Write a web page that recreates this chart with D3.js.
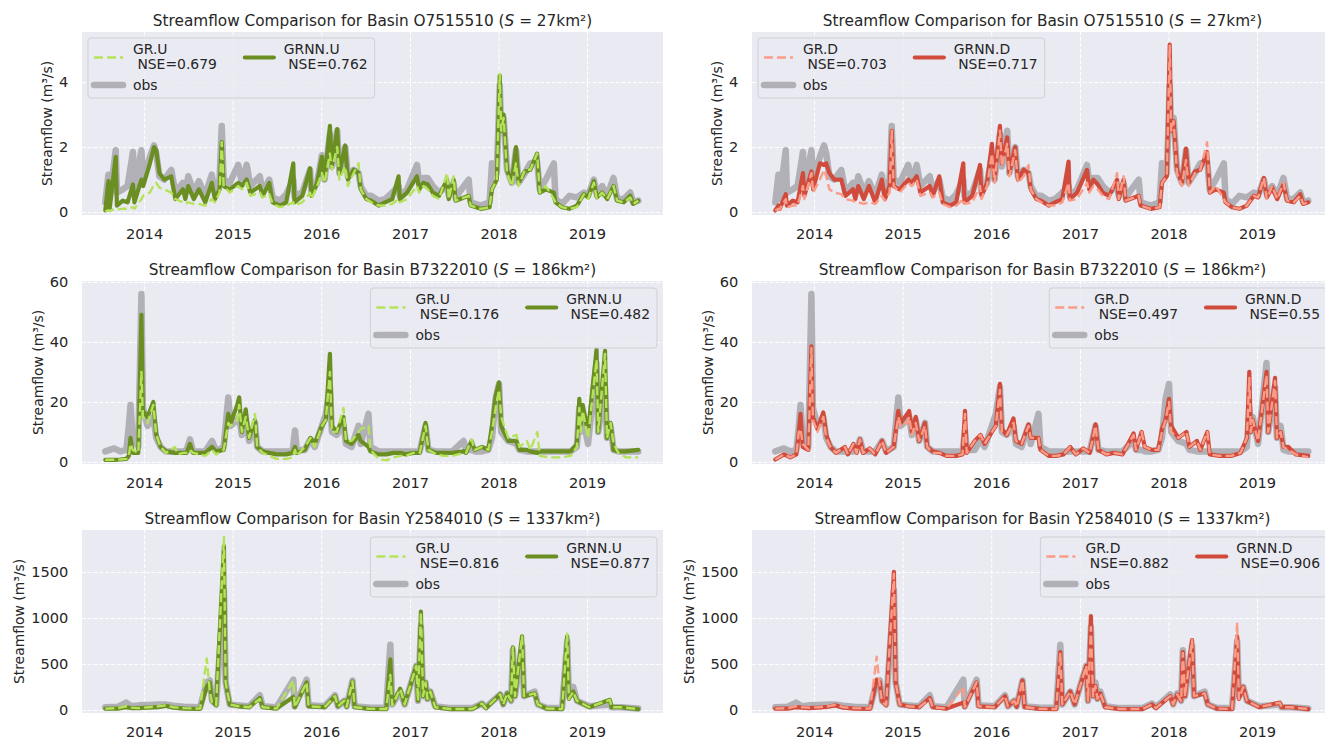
<!DOCTYPE html>
<html>
<head>
<meta charset="utf-8">
<script src="https://cdn.jsdelivr.net/npm/d3@7"></script>
<style>
  body { margin: 0; background: #fff; }
  svg text { font-family: "DejaVu Sans", sans-serif; fill: #262626; }
</style>
</head>
<body>
<div id="chart"></div>
<script>
// ---------- data ----------
const basinIds = ["O7515510", "B7322010", "Y2584010"];
const basinAreas = [27, 186, 1337];
const yTicks = [[0, 2, 4], [0, 20, 40, 60], [0, 500, 1000, 1500]];
const yLimits = [[-0.09, 5.54], [-0.7, 60.3], [-33, 1956]];
const xTickLabels = ["2014", "2015", "2016", "2017", "2018", "2019"];

const nseGRU = [0.679, 0.176, 0.816];
const nseGRNNU = [0.762, 0.482, 0.877];
const nseGRD = [0.703, 0.497, 0.882];
const nseGRNND = [0.717, 0.55, 0.906];

// basin O7515510
const datesO75 = ["2013-07-25","2013-08-07","2013-08-12","2013-09-06","2013-09-11","2013-10-05","2013-10-25","2013-11-16","2013-11-22","2013-12-21",
  "2013-12-28","2014-01-25","2014-02-11","2014-02-20","2014-03-05","2014-03-25","2014-04-23","2014-05-10","2014-06-10","2014-06-20",
  "2014-07-02","2014-07-25","2014-08-15","2014-09-10","2014-10-07","2014-10-20","2014-11-08","2014-11-17","2014-11-25","2014-12-20",
  "2015-01-24","2015-02-08","2015-02-28","2015-03-15","2015-04-23","2015-05-05","2015-06-01","2015-06-15","2015-07-15","2015-08-10",
  "2015-09-08","2015-09-13","2015-10-15","2015-11-16","2015-11-22","2015-12-15","2016-01-04","2016-01-15","2016-02-06","2016-02-14",
  "2016-03-07","2016-03-16","2016-04-09","2016-04-20","2016-05-14","2016-06-03","2016-06-12","2016-07-05","2016-07-25","2016-08-25",
  "2016-09-20","2016-10-20","2016-11-15","2016-11-20","2016-12-20","2017-01-30","2017-02-08","2017-02-25","2017-03-15","2017-04-05",
  "2017-05-01","2017-06-03","2017-06-10","2017-06-30","2017-07-08","2017-08-31","2017-09-08","2017-10-20","2017-11-25","2017-12-05",
  "2017-12-25","2018-01-06","2018-01-12","2018-01-22","2018-02-05","2018-02-25","2018-03-14","2018-03-25","2018-04-20","2018-05-12",
  "2018-06-09","2018-06-20","2018-07-15","2018-08-17","2018-08-24","2018-09-20","2018-10-20","2018-11-20","2018-12-19","2019-01-05",
  "2019-01-29","2019-02-10","2019-03-04","2019-03-25","2019-04-20","2019-05-05","2019-06-01","2019-06-28","2019-07-10","2019-07-31"];
const obsO75 = [0.3, 1.15, 0.4, 1.9, 0.6, 0.7, 0.8, 1.85, 0.7, 1.9,
  1.0, 1.7, 2.05, 1.8, 1.1, 1.0, 1.3, 0.6, 0.9, 0.6,
  1.1, 0.6, 0.95, 0.5, 1.15, 0.6, 1.0, 2.65, 1.0, 0.9,
  1.45, 0.9, 1.45, 0.8, 1.1, 0.6, 1.0, 0.45, 0.35, 0.55,
  1.0, 0.5, 0.6, 1.3, 0.6, 0.9, 1.75, 1.0, 2.4, 1.4,
  2.5, 1.2, 2.0, 1.1, 1.3, 1.2, 0.8, 0.5, 0.5, 0.35,
  0.4, 0.6, 0.8, 0.5, 0.7, 1.45, 0.9, 1.05, 1.05, 0.8,
  0.6, 0.8, 0.5, 0.9, 0.45, 1.0, 0.3, 0.2, 0.3, 1.5,
  1.2, 3.9, 2.5, 2.9, 1.3, 0.9, 1.9, 0.9, 1.2, 1.5,
  1.55, 0.7, 1.0, 1.5, 0.4, 0.25, 0.5, 0.45, 0.6, 0.5,
  1.0, 0.55, 0.8, 0.5, 1.05, 0.4, 0.4, 0.6, 0.3, 0.35];
const gruO75 = [0.02, 0.05, 0.04, 0.1, 0.08, 0.1, 0.1, 0.15, 0.1, 0.4,
  0.5, 0.6, 0.85, 0.9, 0.75, 0.7, 0.6, 0.4, 0.3, 0.25,
  0.3, 0.25, 0.25, 0.2, 0.4, 0.3, 0.6, 2.15, 0.8, 0.6,
  0.8, 0.7, 0.9, 0.5, 0.6, 0.45, 0.55, 0.25, 0.15, 0.2,
  0.3, 0.2, 0.3, 0.6, 0.4, 0.8, 1.2, 0.9, 1.8, 1.3,
  2.0, 1.0, 1.4, 0.8, 1.2, 1.5, 0.7, 0.4, 0.3, 0.2,
  0.2, 0.25, 0.4, 0.3, 0.4, 0.8, 0.6, 0.8, 0.7, 0.5,
  0.4, 1.2, 0.4, 1.1, 0.35, 0.5, 0.2, 0.1, 0.15, 0.7,
  1.0, 4.25, 2.5, 2.9, 1.2, 0.8, 1.5, 0.8, 1.3, 1.3,
  1.8, 0.6, 0.8, 0.4, 0.3, 0.15, 0.1, 0.15, 0.55, 0.4,
  0.9, 0.4, 0.6, 0.4, 0.8, 0.35, 0.3, 0.45, 0.25, 0.35];
const grnnuO75 = [0.05, 0.95, 0.1, 1.7, 0.2, 0.35, 0.3, 0.85, 0.3, 1.0,
  0.8, 1.5, 2.0, 1.9, 1.2, 1.0, 1.1, 0.4, 0.7, 0.4,
  0.8, 0.4, 0.7, 0.3, 0.9, 0.4, 0.7, 2.15, 0.8, 0.7,
  0.9, 0.8, 1.0, 0.6, 0.8, 0.5, 0.9, 0.3, 0.2, 0.3,
  1.5, 0.3, 0.5, 1.35, 0.5, 0.9, 1.7, 1.0, 2.65, 1.4,
  2.55, 1.2, 2.05, 1.0, 1.3, 1.2, 0.7, 0.4, 0.35, 0.2,
  0.3, 0.4, 1.1, 0.4, 0.6, 1.1, 0.7, 0.9, 0.85, 0.6,
  0.5, 1.0, 0.4, 1.0, 0.35, 0.5, 0.2, 0.1, 0.15, 0.7,
  1.0, 4.2, 2.5, 3.0, 1.3, 0.9, 2.0, 0.9, 1.25, 1.3,
  1.8, 0.6, 0.7, 0.6, 0.3, 0.15, 0.1, 0.2, 0.55, 0.45,
  0.95, 0.45, 0.6, 0.4, 0.8, 0.35, 0.3, 0.5, 0.25, 0.35];
const grdO75 = [0.05, 0.1, 0.08, 0.4, 0.15, 0.2, 0.2, 0.8, 0.4, 1.2,
  0.6, 1.0, 1.3, 1.1, 0.7, 0.6, 0.55, 0.4, 0.35, 0.3,
  0.3, 0.25, 0.3, 0.25, 0.5, 0.35, 0.6, 2.5, 0.8, 0.6,
  0.9, 0.8, 1.0, 0.5, 0.6, 0.45, 0.6, 0.25, 0.15, 0.2,
  0.4, 0.25, 0.3, 0.8, 0.4, 0.8, 1.8, 0.9, 2.5, 1.4,
  2.1, 1.1, 1.9, 0.9, 1.1, 1.45, 0.7, 0.4, 0.3, 0.2,
  0.2, 0.3, 0.9, 0.35, 0.4, 0.9, 0.6, 0.8, 0.7, 0.5,
  0.4, 1.2, 0.4, 1.1, 0.35, 0.5, 0.2, 0.1, 0.15, 0.9,
  1.1, 5.15, 2.5, 2.8, 1.2, 0.8, 1.6, 0.8, 1.2, 1.3,
  2.15, 0.6, 0.8, 0.4, 0.3, 0.15, 0.1, 0.2, 0.5, 0.45,
  1.05, 0.4, 0.8, 0.4, 0.9, 0.35, 0.3, 0.5, 0.25, 0.3];
const grnndO75 = [0.05, 0.2, 0.1, 0.55, 0.2, 0.35, 0.3, 1.2, 0.5, 1.25,
  0.7, 1.5, 1.45, 1.5, 1.2, 1.0, 1.0, 0.5, 0.7, 0.4,
  0.8, 0.4, 0.8, 0.3, 1.0, 0.4, 0.8, 2.5, 0.8, 0.7,
  1.0, 0.9, 1.1, 0.6, 0.8, 0.5, 1.1, 0.3, 0.2, 0.3,
  1.5, 0.3, 0.5, 1.45, 0.5, 0.9, 2.1, 1.0, 2.65, 1.5,
  2.3, 1.2, 2.0, 1.0, 1.3, 1.2, 0.7, 0.4, 0.35, 0.2,
  0.3, 0.4, 1.55, 0.4, 0.6, 1.3, 0.7, 1.0, 0.85, 0.6,
  0.5, 1.0, 0.4, 1.0, 0.35, 0.5, 0.2, 0.1, 0.15, 0.9,
  1.1, 5.15, 2.5, 2.8, 1.3, 0.9, 1.95, 0.9, 1.25, 1.3,
  1.85, 0.6, 0.7, 0.6, 0.3, 0.15, 0.1, 0.2, 0.5, 0.45,
  1.05, 0.45, 0.75, 0.4, 0.85, 0.35, 0.3, 0.55, 0.25, 0.3];

// basin B7322010
const datesB73 = ["2013-07-25","2013-08-30","2013-09-25","2013-10-20","2013-10-30","2013-11-06","2013-11-15","2013-12-08","2013-12-21","2013-12-27",
  "2014-01-15","2014-02-08","2014-02-20","2014-03-10","2014-04-01","2014-05-08","2014-05-20","2014-06-12","2014-06-25","2014-07-09",
  "2014-07-22","2014-08-18","2014-09-10","2014-10-08","2014-10-25","2014-11-25","2014-12-14","2014-12-24","2015-01-20","2015-01-28",
  "2015-02-08","2015-02-24","2015-03-10","2015-04-03","2015-04-12","2015-05-05","2015-06-01","2015-07-01","2015-08-10","2015-09-05",
  "2015-09-15","2015-09-22","2015-10-25","2015-11-18","2015-12-05","2016-01-04","2016-01-20","2016-02-06","2016-02-14","2016-03-05",
  "2016-04-02","2016-04-12","2016-05-05","2016-06-03","2016-06-12","2016-07-14","2016-07-22","2016-08-25","2016-09-25","2016-10-25",
  "2016-11-22","2016-12-15","2017-01-15","2017-02-10","2017-03-06","2017-03-18","2017-04-20","2017-05-20","2017-06-25","2017-08-10",
  "2017-08-20","2017-09-12","2017-09-25","2017-10-25","2017-11-20","2017-12-05","2017-12-20","2018-01-03","2018-01-12","2018-02-10",
  "2018-03-16","2018-03-28","2018-04-28","2018-05-12","2018-06-10","2018-06-20","2018-08-01","2018-09-15","2018-10-25","2018-11-20",
  "2018-11-30","2018-12-06","2018-12-14","2019-01-05","2019-02-09","2019-02-16","2019-03-16","2019-03-24","2019-04-08","2019-04-20",
  "2019-05-10","2019-06-10","2019-07-31"];
const obsB73 = [3.5, 4.5, 3.5, 4, 12, 19, 8, 5, 56, 18,
  12, 15, 8, 5, 3.5, 3.5, 3.5, 3.5, 4, 7.5,
  3.5, 3.5, 3.5, 7, 3.5, 5, 21.5, 12, 14, 15,
  9, 14, 7, 13, 5, 3.5, 3.5, 3.5, 3.5, 3.5,
  10.5, 4, 4, 7.5, 5, 12, 16, 25, 10, 9,
  12, 6, 5, 12, 6, 16, 5, 3.5, 3.5, 3.5,
  3.5, 3.5, 3.5, 3.5, 12, 4, 3.5, 3.5, 3.5, 7,
  4, 4, 3.5, 3.5, 4, 8, 21, 26, 10, 7,
  6, 4, 3.5, 3.5, 3.5, 3.5, 3.5, 3.5, 3.5, 5,
  18, 10, 15, 6, 33, 10, 25, 8, 12, 4,
  3.5, 3.5, 3.5];
const gruB73 = [0.7, 0.7, 0.8, 1.0, 2.0, 6, 4, 3, 30, 15,
  13, 19, 9, 5, 3, 5, 2.5, 3, 3, 4,
  3, 2.5, 2, 4, 2.5, 4, 13, 12, 14, 19,
  10, 15, 8, 16, 5, 3, 2, 1, 1, 1.5,
  4, 2, 5, 8, 5, 12, 14, 30, 10, 10,
  18, 7, 7, 10, 11, 12, 4, 1, 0.5, 1.5,
  2, 2, 3, 3, 12, 4, 2.5, 2, 2, 3,
  3, 7.5, 4, 5, 4, 10, 18, 24, 15, 8,
  9, 5, 7, 4, 10, 2, 1.5, 1.5, 2, 5,
  18, 10, 17, 8, 34, 10, 36, 8, 13, 6,
  3, 1.5, 1.5];
const grnnuB73 = [0.7, 0.7, 0.8, 1.0, 2.0, 8, 3, 3, 49, 17,
  15, 20, 9, 5, 3.5, 3, 3, 3, 3, 6,
  3, 3, 3, 5, 3.5, 4, 16, 13, 19, 21.5,
  10, 17.5, 8, 14, 5, 3.5, 3, 2.5, 2.5, 3,
  5, 3, 4, 8, 6, 12, 14, 36, 12, 10,
  15, 7, 6, 9, 7, 5, 3.5, 2.5, 2.5, 3,
  3, 2.5, 3, 3, 13, 4, 3, 3, 3, 3.5,
  3, 7, 4, 5, 4, 12, 22, 26.5, 12, 7,
  7, 4, 4, 3.5, 3, 3.5, 3.5, 3.5, 3.5, 6,
  21, 12, 19, 10, 37.5, 10, 37, 8, 13, 4,
  3.5, 3.5, 4];
const grdB73 = [0.8, 2.5, 1.5, 2.5, 10, 11, 6, 4, 38, 14,
  10, 15, 8, 5, 3, 5, 2.5, 6, 3, 7.5,
  3, 4.5, 2.5, 7, 3, 5, 15, 12, 13, 15,
  9, 13, 7, 12, 5, 3, 3, 2, 2, 2.5,
  16, 3, 7, 9, 6, 10, 12, 24, 10, 9,
  13, 7, 6, 12, 8, 8, 4, 2, 2, 2.5,
  5, 2.5, 4.5, 3, 12, 4, 2.5, 3, 2.5, 9,
  4, 10, 5, 4, 4, 10, 14, 20, 10, 8,
  10, 5, 7, 4, 10, 2.5, 2, 2, 3, 8,
  28, 10, 14, 7, 29, 10, 27, 8, 10, 5,
  4, 2.5, 1.5];
const grnndB73 = [0.8, 2.5, 1.5, 2.5, 10, 16, 5, 4, 38.5, 15,
  11, 16.5, 9, 5, 3, 5, 2.5, 6, 3, 7.5,
  3, 4.5, 2.5, 7, 3, 5, 17, 13, 16, 17,
  10, 15, 7, 13, 5, 3.5, 3, 2, 2, 2.5,
  17, 3, 7, 9, 6, 10, 12, 26, 11, 9,
  14.5, 7, 6, 12.5, 8, 8, 4, 2, 2, 2.5,
  5, 2.5, 4.5, 3, 12.5, 4, 2.5, 3, 2.5, 9.5,
  4, 10, 5, 4, 4, 11, 14, 21, 12, 8,
  10, 5, 7, 4, 10, 2.5, 2, 2, 3, 8,
  30, 10, 14, 7, 30, 10, 28, 8, 10, 5,
  5, 2.5, 2];

// basin Y2584010
const datesY25 = ["2013-07-25","2013-09-15","2013-10-19","2013-11-10","2013-12-10","2014-01-20","2014-03-01","2014-03-30","2014-05-01","2014-06-15",
  "2014-08-20","2014-09-16","2014-09-29","2014-10-08","2014-10-25","2014-11-26","2014-12-03","2014-12-20","2015-01-25","2015-03-10",
  "2015-04-23","2015-05-05","2015-07-01","2015-09-08","2015-09-14","2015-11-02","2015-11-10","2016-01-15","2016-02-27","2016-03-10",
  "2016-04-05","2016-04-15","2016-05-09","2016-05-18","2016-07-20","2016-09-25","2016-10-12","2016-10-20","2016-11-22","2016-12-10",
  "2017-01-27","2017-02-03","2017-02-15","2017-02-24","2017-03-06","2017-03-14","2017-03-26","2017-04-15","2017-06-15","2017-09-15",
  "2017-10-25","2017-11-10","2018-01-08","2018-01-20","2018-02-06","2018-02-22","2018-03-01","2018-03-10","2018-04-08","2018-04-16",
  "2018-05-30","2018-06-12","2018-07-20","2018-09-20","2018-10-11","2018-10-18","2018-11-05","2018-11-20","2019-01-10","2019-04-05",
  "2019-04-12","2019-05-20","2019-07-31"];
const obsY25 = [30, 35, 80, 40, 50, 55, 60, 60, 45, 35,
  30, 300, 320, 100, 60, 1300, 300, 60, 50, 40,
  160, 40, 30, 330, 40, 330, 50, 40, 160, 40,
  100, 40, 320, 40, 25, 25, 710, 60, 200, 60,
  480, 100, 900, 150, 300, 120, 200, 40, 20, 20,
  70, 30, 170, 60, 180, 100, 650, 150, 700, 150,
  200, 60, 20, 20, 750, 150, 250, 100, 40, 60,
  30, 30, 15];
const gruY25 = [15, 20, 40, 25, 20, 30, 40, 50, 30, 20,
  15, 560, 200, 80, 50, 1880, 300, 60, 40, 30,
  120, 30, 15, 320, 30, 300, 40, 30, 150, 40,
  100, 35, 310, 30, 12, 10, 380, 50, 230, 60,
  480, 100, 1060, 150, 300, 120, 200, 30, 10, 10,
  70, 20, 170, 60, 180, 100, 680, 150, 800, 150,
  180, 60, 15, 10, 830, 120, 200, 100, 30, 110,
  30, 30, 10];
const grnnuY25 = [15, 15, 30, 20, 20, 25, 30, 45, 25, 15,
  12, 250, 300, 100, 50, 1780, 300, 60, 40, 30,
  130, 30, 15, 140, 30, 300, 40, 30, 150, 40,
  100, 35, 310, 30, 12, 10, 550, 60, 230, 60,
  480, 100, 1070, 150, 300, 120, 200, 30, 10, 10,
  70, 20, 170, 60, 180, 100, 680, 150, 800, 150,
  180, 60, 15, 10, 800, 120, 200, 100, 30, 110,
  30, 30, 10];
const grdY25 = [15, 20, 40, 30, 25, 30, 40, 55, 30, 20,
  15, 580, 250, 90, 50, 1480, 300, 60, 40, 30,
  120, 30, 15, 250, 30, 300, 40, 30, 150, 40,
  100, 35, 320, 30, 12, 10, 620, 60, 200, 60,
  480, 100, 900, 150, 260, 120, 180, 30, 10, 10,
  60, 20, 150, 60, 170, 100, 620, 150, 760, 150,
  180, 60, 15, 10, 950, 120, 250, 100, 30, 80,
  30, 30, 10];
const grnndY25 = [15, 15, 30, 25, 20, 25, 35, 50, 25, 15,
  12, 330, 300, 100, 50, 1500, 300, 60, 40, 30,
  130, 30, 15, 80, 30, 300, 40, 30, 150, 40,
  100, 35, 320, 30, 12, 10, 630, 60, 200, 60,
  480, 100, 1020, 150, 260, 120, 180, 30, 10, 10,
  60, 20, 150, 60, 170, 100, 630, 150, 760, 150,
  180, 60, 15, 10, 800, 120, 250, 100, 30, 80,
  30, 30, 10];

// ---------- layout ----------
const width = 1325, height = 741;
const colLeft = [82, 752];
const rowTop = [32, 281, 530];
const axWidth = 581, axHeight = 183;
const parseDate = d3.timeParse("%Y-%m-%d");
const xDomain = [new Date(2013, 3, 20), new Date(2019, 10, 10)];

const fontTitle = 15.3, fontTick = 14.6, fontLabel = 13.9, fontLegend = 13.9;

const style = {
  obs:  { color: "#b0b0b6", width: 6.5, dash: null },
  GRU:  { color: "#b4e35a", width: 2.4, dash: "9,4" },
  GRNNU:{ color: "#6b8e23", width: 4.2, dash: null },
  GRD:  { color: "#fb9c88", width: 2.4, dash: "9,4" },
  GRNND:{ color: "#d04b3b", width: 4.2, dash: null }
};

const basins = [
  { dates: datesO75, obs: obsO75, models: [[gruO75, grnnuO75], [grdO75, grnndO75]] },
  { dates: datesB73, obs: obsB73, models: [[gruB73, grnnuB73], [grdB73, grnndB73]] },
  { dates: datesY25, obs: obsY25, models: [[gruY25, grnnuY25], [grdY25, grnndY25]] }
];
const modelNames = [["GR.U", "GRNN.U"], ["GR.D", "GRNN.D"]];
const modelKeys = [["GRU", "GRNNU"], ["GRD", "GRNND"]];
const modelNse = [[nseGRU, nseGRNNU], [nseGRD, nseGRNND]];

const svg = d3.select("#chart").append("svg")
  .attr("width", width)
  .attr("height", height);

/**
 * Draws the legend box: col 1 holds GR and obs, col 2 holds GRNN
 */
function drawLegend(g, entries, upperRight, left, top, right) {
  const leg = g.append("g");
  const box = leg.append("rect")
    .attr("rx", 3)
    .attr("fill", "#eaeaf2")
    .attr("fill-opacity", 0.8)
    .attr("stroke", "#cfcfd6")
    .attr("stroke-width", 1);
  const handleLen = 29, gap = 10, colGap = 28, pad = 6;
  const rowsY = [{ handle: 19.5, text: [16, 31] }, { handle: 47, text: [52] }];

  let cols = [leg.append("g"), leg.append("g")];
  let widths = [0, 0];
  entries.forEach(e => {
    const c = cols[e.col];
    const r = rowsY[e.row];
    c.append("line")
      .attr("x1", 0).attr("x2", handleLen)
      .attr("y1", r.handle).attr("y2", r.handle)
      .attr("stroke", e.style.color)
      .attr("stroke-width", e.style.width)
      .attr("stroke-dasharray", e.style.dash)
      .attr("stroke-linecap", e.style.dash ? "butt" : "round");
    e.lines.forEach((txt, i) => {
      const t = c.append("text")
        .attr("x", handleLen + gap)
        .attr("y", r.text[i])
        .attr("font-size", fontLegend)
        .style("white-space", "pre")
        .text(txt);
      widths[e.col] = Math.max(widths[e.col], t.node().getComputedTextLength());
    });
  });
  const c2x = pad + handleLen + gap + widths[0] + colGap;
  cols[0].attr("transform", "translate(" + pad + ",0)");
  cols[1].attr("transform", "translate(" + c2x + ",0)");
  const w = c2x + handleLen + gap + widths[1] + 7;
  box.attr("width", w).attr("height", 60);
  const lx = upperRight ? right - 6 - w : left + 6;
  const ly = top + (upperRight ? 7 : 6);
  leg.attr("transform", "translate(" + lx + "," + ly + ")");
}

/**
 * Draws one subplot (basin row, model family column)
 */
function drawPanel(row, col) {
  const b = basins[row];
  const left = colLeft[col], top = rowTop[row];
  const right = left + axWidth, bottom = top + axHeight;
  const dates = b.dates.map(parseDate);

  let x = d3.scaleTime().domain(xDomain).range([left, right]);
  let y = d3.scaleLinear().domain(yLimits[row]).range([bottom, top]);
  const yearTicks = xTickLabels.map(s => new Date(+s, 0, 1));

  let g = svg.append("g");
  const clipId = "clip-" + row + "-" + col;
  g.append("clipPath").attr("id", clipId)
    .append("rect")
    .attr("x", left).attr("y", top)
    .attr("width", axWidth).attr("height", axHeight);

  g.append("rect")
    .attr("x", left).attr("y", top)
    .attr("width", axWidth).attr("height", axHeight)
    .attr("fill", "#eaeaf2");

  // grid
  let gx = g.append("g")
    .attr("transform", "translate(0," + bottom + ")")
    .call(d3.axisBottom(x).tickValues(yearTicks).tickSize(-axHeight).tickFormat(""));
  let gy = g.append("g")
    .attr("transform", "translate(" + left + ",0)")
    .call(d3.axisLeft(y).tickValues(yTicks[row]).tickSize(-axWidth).tickFormat(""));
  [gx, gy].forEach(a => {
    a.select(".domain").remove();
    a.selectAll("line")
      .attr("stroke", "#ffffff")
      .attr("stroke-width", 1)
      .attr("stroke-dasharray", "4,1.8");
  });

  // tick labels
  let lx = g.append("g")
    .attr("transform", "translate(0," + bottom + ")")
    .call(d3.axisBottom(x).tickValues(yearTicks).tickSize(0).tickPadding(13.6)
      .tickFormat((d, i) => xTickLabels[i]));
  let ly = g.append("g")
    .attr("transform", "translate(" + left + ",0)")
    .call(d3.axisLeft(y).tickValues(yTicks[row]).tickSize(0).tickPadding(13.7)
      .tickFormat(d3.format("d")));
  let maxTick = 0;
  [lx, ly].forEach(a => {
    a.select(".domain").remove();
    a.attr("font-family", null).attr("font-size", null);
    a.selectAll("text")
      .attr("font-size", fontTick)
      .attr("fill", "#262626");
  });
  ly.selectAll("text").each(function() {
    maxTick = Math.max(maxTick, this.getComputedTextLength());
  });

  // series
  const pairs = vals => vals.map((v, i) => [dates[i], v]);
  const line = d3.line()
    .x(d => x(d[0]))
    .y(d => y(d[1]));
  let plot = g.append("g").attr("clip-path", "url(#" + clipId + ")");
  const series = [
    { vals: b.obs, st: style.obs },
    { vals: b.models[col][1], st: style[modelKeys[col][1]] },
    { vals: b.models[col][0], st: style[modelKeys[col][0]] }
  ];
  series.forEach(s => {
    plot.append("path")
      .attr("d", line(pairs(s.vals)))
      .attr("fill", "none")
      .attr("stroke", s.st.color)
      .attr("stroke-width", s.st.width)
      .attr("stroke-dasharray", s.st.dash)
      .attr("stroke-linejoin", "round")
      .attr("stroke-linecap", s.st.dash ? "butt" : "round");
  });

  // y label
  const labX = left - 13.7 - maxTick - 7;
  g.append("text")
    .attr("transform", "translate(" + labX + "," + ((top + bottom) / 2) + ") rotate(-90)")
    .attr("text-anchor", "middle")
    .attr("font-size", fontLabel)
    .text("Streamflow (m³/s)");

  // title
  let title = g.append("text")
    .attr("x", (left + right) / 2)
    .attr("y", top - 6.3)
    .attr("text-anchor", "middle")
    .attr("font-size", fontTitle);
  title.append("tspan").text("Streamflow Comparison for Basin " + basinIds[row] + " (");
  title.append("tspan").attr("font-style", "italic").text("S");
  title.append("tspan").text(" = " + basinAreas[row] + "km²)");

  // legend
  const names = modelNames[col], keys = modelKeys[col], nse = modelNse[col];
  drawLegend(g, [
    { col: 0, row: 0, style: style[keys[0]], lines: [names[0], " NSE=" + nse[0][row]] },
    { col: 0, row: 1, style: style.obs, lines: ["obs"] },
    { col: 1, row: 0, style: style[keys[1]], lines: [names[1], " NSE=" + nse[1][row]] }
  ], row > 0, left, top, right);
}

for (let r = 0; r < 3; r++) {
  for (let c = 0; c < 2; c++) {
    drawPanel(r, c);
  }
}
</script>
</body>
</html>
